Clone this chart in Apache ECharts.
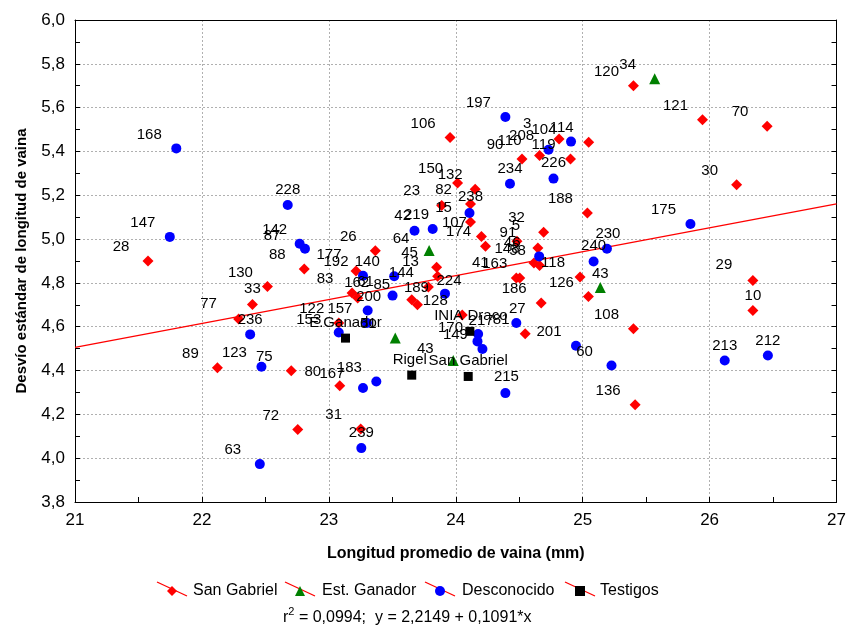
<!DOCTYPE html>
<html>
<head>
<meta charset="utf-8">
<script src="https://cdn.jsdelivr.net/npm/echarts@6/dist/echarts.min.js"></script>
<style>
  html, body { margin: 0; padding: 0; background: #fff; }
  #chart { width: 849px; height: 628px; }
</style>
</head>
<body>
<div id="chart"></div>
<script>
// ---- Data: accession id, mean pod length (mm), pod-length standard deviation ----
const sanGabrielIds = ['28','88','130','33','77','89','75','72','80','31','26','177','83','162','122','85','189','144','45','13','23','106','150','132','82','15','107','174','128','90','110','3','119','114','188','32','5','91','148','58','41','163','186','81','118','126','108','136','120','121','70','30','29','10'];
const sanGabrielX = [21.575,22.806,22.516,22.398,22.289,22.122,22.704,22.755,23.086,23.251,23.366,23.214,23.183,23.227,23.078,23.653,23.698,23.784,23.849,23.857,23.889,23.955,24.014,24.153,24.116,24.116,24.202,24.234,24.051,24.522,24.660,24.814,24.904,25.047,25.037,24.692,24.482,24.647,24.616,24.660,24.477,24.504,24.673,24.547,24.979,25.045,25.400,25.413,25.400,25.944,26.453,26.213,26.341,26.341];
const sanGabrielY = [4.900,4.863,4.784,4.702,4.635,4.413,4.399,4.131,4.331,4.133,4.947,4.854,4.754,4.731,4.617,4.723,4.700,4.781,4.871,4.830,5.153,5.464,5.256,5.227,5.160,5.078,5.012,4.967,4.653,5.366,5.382,5.457,5.366,5.442,5.119,5.031,4.990,4.959,4.891,4.880,4.822,4.822,4.708,4.568,4.827,4.738,4.591,4.244,5.700,5.545,5.515,5.248,4.811,4.674];

const ganadorIds = ['34','64','51','43','43'];
const ganadorX = [25.567,23.790,23.523,25.139,23.980];
const ganadorY = [5.732,4.948,4.548,4.779,4.446];

const unknownIds = ['168','147','228','142','87','236','123','63','192','140','61','200','157','153','224','167','183','239','219','42','238','197','234','226','208','104','46','217','170','149','27','215','201','60','230','240','175','213','212'];
const unknownX = [21.798,21.747,22.676,22.770,22.812,22.380,22.469,22.456,23.269,23.515,23.502,23.306,23.300,23.078,23.915,23.269,23.374,23.256,23.675,23.818,24.108,24.391,24.427,24.770,24.731,24.908,24.657,24.176,24.171,24.210,24.477,24.391,24.947,25.227,25.191,25.086,25.849,26.119,26.459];
const unknownY = [5.414,5.010,5.156,4.979,4.956,4.565,4.417,3.973,4.833,4.830,4.742,4.674,4.617,4.574,4.751,4.320,4.350,4.046,5.038,5.046,5.119,5.557,5.253,5.276,5.408,5.445,4.921,4.567,4.533,4.498,4.617,4.297,4.513,4.423,4.956,4.898,5.069,4.446,4.469];

const checkIds = ['E.Ganador','INIA Draco','Rigel','San Gabriel'];
const checkX = [23.131,24.111,23.653,24.098];
const checkY = [4.548,4.579,4.379,4.373];

// Fitted line, as printed under the legend
const fitIntercept = 2.2149;
const fitSlope = 0.1091;
const fitR2 = '0,0994';

const xTicks = { min: 21, max: 27, step: 1 };
const yTicks = { min: 3.8, max: 6.0, step: 0.2 };

// ---- Label placement (pixels from the marker centre) ----
const UL = [-27, -14];      // default: above-left of the marker
const TOP = [0, -15];       // straight above
const labelShift = {
  'San Gabriel|33': [0, -16], 'San Gabriel|77': [-30, -15], 'San Gabriel|162': [-1, -15],
  'San Gabriel|85': [-30, -15], 'San Gabriel|189': [-1, -17], 'San Gabriel|23': [-30, -15],
  'San Gabriel|110': [-30, -15], 'San Gabriel|3': [-32, -15], 'San Gabriel|5': [-1, -15],
  'San Gabriel|91': [-30, -15], 'San Gabriel|41': [-36, -15], 'San Gabriel|163': [-25, -14],
  'San Gabriel|10': TOP, 'San Gabriel|29': [-29, -16], 'San Gabriel|177': [-27, -16],
  'San Gabriel|132': [-25, -14], 'San Gabriel|58': [-22, -15], 'San Gabriel|81': [-24, -14],
  'Est. Ganador|64': [-28, -12], 'Est. Ganador|43': [0, -14], 'Est. Ganador|43|2': [-28, -12],
  'Desconocido|228': TOP, 'Desconocido|236': TOP, 'Desconocido|87': [-33, -13],
  'Desconocido|142': [-25, -14], 'Desconocido|200': [1, -14], 'Desconocido|153': [-30, -13],
  'Desconocido|224': [4, -13], 'Desconocido|167': [-31, -14], 'Desconocido|239': TOP,
  'Desconocido|219': [2, -16], 'Desconocido|42': [-30, -13], 'Desconocido|238': [1, -16],
  'Desconocido|234': TOP, 'Desconocido|226': [0, -16], 'Desconocido|104': [-27, -12],
  'Desconocido|217': [3, -13], 'Desconocido|27': [1, -14], 'Desconocido|215': [1, -16],
  'Desconocido|230': [1, -15], 'Desconocido|240': [0, -16], 'Desconocido|213': TOP,
  'Desconocido|212': TOP,
  'Testigos|E.Ganador': TOP, 'Testigos|INIA Draco': [1, -15], 'Testigos|Rigel': [-2, -15],
  'Testigos|San Gabriel': [0, -16]
};

function points(series, ids, xs, ys) {
  const seen = {};
  return ids.map((id, i) => {
    seen[id] = (seen[id] || 0) + 1;
    const key = series + '|' + id + (seen[id] > 1 ? '|' + seen[id] : '');
    return { name: id, value: [xs[i], ys[i]], label: { offset: labelShift[key] || UL } };
  });
}

const font = 'Liberation Sans, Arial, sans-serif';
const pointLabel = { show: true, position: 'inside', formatter: '{b}', color: '#000', fontSize: 15, fontFamily: font };

const groups = [
  { name: 'San Gabriel', symbol: 'diamond', size: 11, color: '#ff0000', ids: sanGabrielIds, xs: sanGabrielX, ys: sanGabrielY },
  { name: 'Est. Ganador', symbol: 'triangle', size: 11, color: '#008000', ids: ganadorIds, xs: ganadorX, ys: ganadorY },
  { name: 'Desconocido', symbol: 'circle', size: 10, color: '#0000ff', ids: unknownIds, xs: unknownX, ys: unknownY },
  { name: 'Testigos', symbol: 'rect', size: 9, color: '#000000', ids: checkIds, xs: checkX, ys: checkY }
];

const comma = v => v.toFixed(1).replace('.', ',');

// legend swatches: marker centre x, and the red slanted stroke behind each
const legendMarkerX = [172, 300, 440, 580];
const legendTextPad = [11, 12, 12, 10];

const chart = echarts.init(document.getElementById('chart'), null, { renderer: 'canvas' });

chart.setOption({
  animation: false,
  backgroundColor: '#fff',
  textStyle: { fontFamily: font },
  grid: { left: 75, right: 9, top: 20, bottom: 126 },
  xAxis: [{
    type: 'value', min: xTicks.min, max: xTicks.max, interval: xTicks.step, position: 'bottom',
    axisLine: { onZero: false, lineStyle: { color: '#000', width: 1 } },
    axisTick: { inside: true, length: 5, lineStyle: { color: '#000' } },
    minorTick: { show: true, splitNumber: 2, length: 5, lineStyle: { color: '#000' } },
    axisLabel: { color: '#000', fontSize: 17, fontFamily: font, margin: 10 },
    splitLine: { show: true, lineStyle: { color: '#b0b0b0', type: [2, 2], width: 1 } },
    name: 'Longitud promedio de vaina (mm)', nameLocation: 'middle', nameGap: 44,
    nameTextStyle: { fontWeight: 'bold', fontSize: 16, color: '#000', fontFamily: font }
  }, {
    type: 'value', min: xTicks.min, max: xTicks.max, interval: xTicks.step, position: 'top',
    axisLine: { onZero: false, lineStyle: { color: '#000', width: 1 } },
    axisTick: { show: false }, axisLabel: { show: false }, splitLine: { show: false }
  }],
  yAxis: [{
    type: 'value', min: yTicks.min, max: yTicks.max, interval: yTicks.step, position: 'left',
    axisLine: { show: true, onZero: false, lineStyle: { color: '#000', width: 1 } },
    axisTick: { show: true, inside: true, length: 5, lineStyle: { color: '#000' } },
    minorTick: { show: true, splitNumber: 2, length: 5, lineStyle: { color: '#000' } },
    axisLabel: { color: '#000', fontSize: 17, fontFamily: font, margin: 10, formatter: comma },
    splitLine: { show: true, lineStyle: { color: '#b0b0b0', type: [2, 2], width: 1 } },
    name: 'Desvío estándar de longitud de vaina', nameLocation: 'middle', nameGap: 46,
    nameTextStyle: { fontWeight: 'bold', fontSize: 15, color: '#000', fontFamily: font }
  }, {
    type: 'value', min: yTicks.min, max: yTicks.max, interval: yTicks.step, position: 'right',
    axisLine: { show: true, onZero: false, lineStyle: { color: '#000', width: 1 } },
    axisTick: { show: true, inside: true, length: 5, lineStyle: { color: '#000' } },
    minorTick: { show: true, splitNumber: 2, length: 5, lineStyle: { color: '#000' } },
    axisLabel: { show: false }, splitLine: { show: false }
  }],
  legend: groups.map((g, i) => ({
    data: [{ name: g.name, icon: g.symbol }],
    left: legendMarkerX[i] - 5, top: 583, padding: 0,
    itemWidth: 10, itemHeight: 10, selectedMode: false,
    textStyle: { fontSize: 16, color: '#000', fontFamily: font, padding: [0, 0, 0, legendTextPad[i]] }
  })),
  graphic: [
    ...legendMarkerX.map(cx => ({
      type: 'line', z: 1, silent: true,
      shape: { x1: cx - 15, y1: 582, x2: cx + 15, y2: 596 },
      style: { stroke: '#ff0000', lineWidth: 1.3 }
    })),
    {
      type: 'text', left: 283, top: 606, silent: true,
      style: {
        text: '{t|r}{s|2}{t| = ' + fitR2 + ';  y = ' + String(fitIntercept).replace('.', ',') + ' + ' + String(fitSlope).replace('.', ',') + '*x}',
        rich: {
          t: { fontSize: 16, fontFamily: font, fill: '#000', verticalAlign: 'bottom', lineHeight: 20 },
          s: { fontSize: 11, fontFamily: font, fill: '#000', verticalAlign: 'top', lineHeight: 20 }
        }
      }
    }
  ],
  series: [
    {
      type: 'line', name: 'fit', silent: true, symbol: 'none', z: 1,
      data: [xTicks.min, xTicks.max].map(x => [x, fitIntercept + fitSlope * x]),
      lineStyle: { color: '#ff0000', width: 1.3 }
    },
    ...groups.map(g => ({
      type: 'scatter', name: g.name, symbol: g.symbol, symbolSize: g.size, z: 3,
      itemStyle: { color: g.color, opacity: 1 },
      label: pointLabel,
      emphasis: { disabled: true },
      data: points(g.name, g.ids, g.xs, g.ys)
    }))
  ]
});
</script>
</body>
</html>
